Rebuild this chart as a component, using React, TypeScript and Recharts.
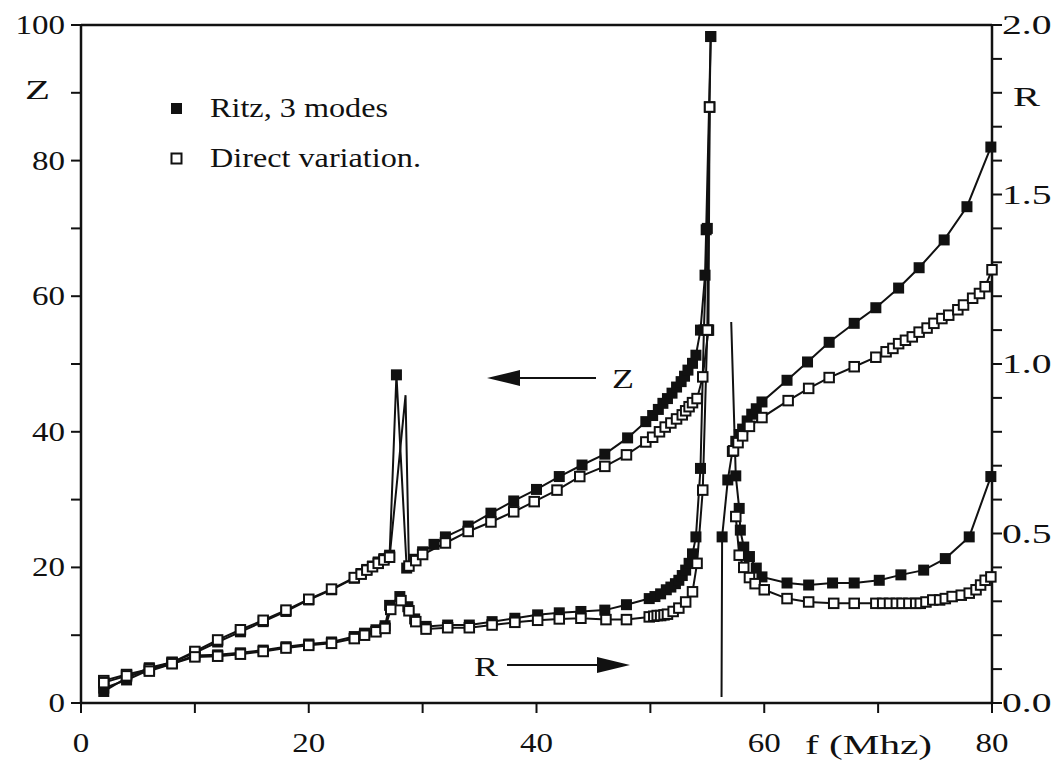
import { Line, LineChart, ReferenceLine, XAxis, YAxis } from "recharts";

type Pt = [number, number | null];

// Z (left axis) – Ritz expansion with 3 modes
const zRitz: Pt[] = [
  [2, 1.7], [4, 3.7], [6, 5.2], [8, 6.0], [10, 7.4], [12, 9.0], [14, 10.5], [16, 12.0], [18, 13.5], [20, 15.2],
  [22, 16.7], [24, 18.4], [24.6, 19.1], [25.1, 19.7], [25.6, 20.2], [26.1, 20.8], [26.6, 21.3], [27.1, 21.8],
  [27.7, 48.4], [28.6, 19.9], [29.2, 21.2], [30, 22.3], [31, 23.4], [32, 24.5], [34, 26.1], [36, 28.0], [38, 29.8],
  [40, 31.5], [42, 33.4], [44, 35.1], [46, 36.7], [48, 39.1], [49.6, 41.5], [50.2, 42.4], [50.7, 43.3], [51.1, 44.2],
  [51.5, 44.9], [51.9, 45.7], [52.3, 46.6], [52.7, 47.4], [53, 48.2], [53.3, 49.1], [53.7, 50.1], [54, 51.3],
  [54.4, 55.0], [54.8, 63.1], [54.9, 69.8], [55.3, 98.3], [55.6, null], [56.25, 0.9], [56.3, 24.5], [56.8, 32.9],
  [57.2, 37.1], [57.5, 38.6], [57.8, 39.6], [58.1, 40.4], [58.5, 41.6], [58.9, 42.6], [59.3, 43.4], [59.8, 44.4],
  [62, 47.6], [63.8, 50.3], [65.7, 53.2], [67.9, 56.0], [69.8, 58.3], [71.8, 61.2], [73.6, 64.2], [75.8, 68.3],
  [77.8, 73.2], [79.9, 82.0],
];
const zRitzBare = [56.25];

// Z (left axis) – direct variational result
const zDirect: Pt[] = [
  [2, 3.3], [4, 4.2], [6, 5.0], [8, 6.0], [10, 7.6], [12, 9.3], [14, 10.8], [16, 12.2], [18, 13.7], [20, 15.3],
  [22, 16.8], [24, 18.5], [24.6, 19.0], [25.1, 19.6], [25.6, 20.1], [26.1, 20.6], [26.6, 21.1], [27.1, 21.5],
  [28.5, 45.4], [28.8, 20.2], [29.4, 21.0], [30, 21.9], [32, 23.6], [34, 25.3], [36, 26.7], [38, 28.2], [39.8, 29.7],
  [41.8, 31.4], [43.8, 33.4], [46, 34.9], [47.9, 36.6], [49.6, 38.5], [50.2, 39.2], [50.8, 40.0], [51.3, 40.7],
  [51.8, 41.3], [52.3, 41.9], [52.8, 42.5], [53.1, 43.1], [53.4, 43.7], [53.7, 44.3], [54.1, 44.9], [54.6, 48.1],
  [55.1, 55.0], [55.2, 87.9], [55.5, null], [57.3, 37.2], [57.7, 38.4], [58.1, 39.4], [58.7, 40.8], [59.8, 42.1],
  [62.1, 44.6], [63.9, 46.4], [65.7, 48.0], [67.9, 49.6], [69.8, 51.0], [70.7, 51.8], [71.3, 52.3], [71.8, 53.0],
  [72.4, 53.5], [73, 54.0], [73.6, 54.7], [74.3, 55.3], [74.9, 56.0], [75.6, 56.7], [76.2, 57.2], [77, 58.0],
  [77.5, 58.7], [78.3, 59.7], [78.9, 60.4], [79.4, 61.4], [80, 63.9],
];
const zDirectBare = [28.5];

// R (right axis) – Ritz expansion with 3 modes
const rRitz: Pt[] = [
  [2, 0.044], [4, 0.068], [6, 0.098], [8, 0.116], [10, 0.14], [12, 0.142], [14, 0.148], [16, 0.156], [18, 0.166],
  [20, 0.174], [22, 0.18], [24, 0.196], [24.9, 0.206], [25.9, 0.216], [26.7, 0.228], [27.1, 0.288], [28, 0.314],
  [28.7, 0.284], [29.3, 0.248], [30.3, 0.226], [32.2, 0.23], [34.1, 0.23], [36.1, 0.24], [38.1, 0.25], [40.1, 0.26],
  [42, 0.266], [43.9, 0.27], [46, 0.274], [47.9, 0.29], [49.9, 0.308], [50.4, 0.314], [50.9, 0.322], [51.4, 0.334],
  [51.8, 0.342], [52.2, 0.352], [52.5, 0.362], [52.8, 0.376], [53.1, 0.392], [53.4, 0.412], [53.7, 0.44], [54, 0.49],
  [54.4, 0.692], [54.7, 1.1], [55, 1.4], [55.3, 1.966], [55.6, null], [57.1, 1.124], [57.5, 0.67], [57.8, 0.574],
  [57.9, 0.51], [58.2, 0.46], [58.7, 0.432], [59.3, 0.398], [59.8, 0.372], [62, 0.354], [63.9, 0.348], [66, 0.354],
  [67.9, 0.354], [70.1, 0.362], [72, 0.378], [74, 0.392], [75.9, 0.426], [78, 0.49], [79.9, 0.668],
];
const rRitzBare = [57.1];

// R (right axis) – direct variational result
const rDirect: Pt[] = [
  [2, 0.06], [4, 0.08], [6, 0.094], [8, 0.116], [10, 0.136], [12, 0.138], [14, 0.144], [16, 0.152], [18, 0.162],
  [20, 0.17], [22, 0.176], [24, 0.19], [24.9, 0.2], [25.9, 0.21], [26.7, 0.22], [27.2, 0.276], [28.1, 0.302],
  [28.8, 0.272], [29.4, 0.24], [30.3, 0.218], [32.2, 0.222], [34.1, 0.222], [36.1, 0.23], [38.1, 0.238], [40.1, 0.244],
  [42, 0.248], [43.9, 0.25], [46.1, 0.246], [47.9, 0.246], [49.9, 0.254], [50.3, 0.256], [50.6, 0.258], [50.9, 0.258],
  [51.2, 0.26], [51.5, 0.262], [52, 0.27], [52.5, 0.28], [53.1, 0.298], [53.7, 0.328], [54.1, 0.412], [54.6, 0.628],
  [55, 1.1], [55.2, 1.758], [55.5, null], [57.5, 0.55], [57.8, 0.436], [58.2, 0.4], [58.7, 0.37], [59.2, 0.352],
  [60, 0.334], [62, 0.308], [63.9, 0.298], [66.1, 0.294], [67.9, 0.294], [69.8, 0.294], [70.4, 0.294], [71, 0.294],
  [71.6, 0.294], [72.1, 0.294], [72.7, 0.294], [73.3, 0.294], [73.7, 0.294], [74.2, 0.298], [74.8, 0.304],
  [75.4, 0.304], [75.9, 0.308], [76.5, 0.314], [77.3, 0.318], [78, 0.324], [78.6, 0.334], [79, 0.348], [79.4, 0.362],
  [79.9, 0.372],
];

const fTicks = [0, 10, 20, 30, 40, 50, 60, 70, 80];
const zTicks = [0, 10, 20, 30, 40, 50, 60, 70, 80, 90, 100];
const rTicks = [0, 0.1, 0.2, 0.3, 0.4, 0.5, 0.6, 0.7, 0.8, 0.9, 1, 1.1, 1.2, 1.3, 1.4, 1.5, 1.6, 1.7, 1.8, 1.9, 2];

const INK = "#111";
const SERIF = "Liberation Serif, Times New Roman, serif";
const CHAR_W = 16.5;

const pts = (rows: Pt[]) => rows.map(([f, v]) => ({ f, v }));

// square markers; points listed in `bare` only carry the line
const squareDot = (filled: boolean, bare: number[] = []) => (props: any) => {
  const { cx, cy, payload, index } = props;
  if (cx == null || cy == null || payload?.v == null || bare.includes(payload.f)) return <g key={`d${index}`} />;
  return filled ? (
    <rect key={`d${index}`} x={cx - 5.5} y={cy - 5.5} width={11} height={11} fill={INK} />
  ) : (
    <rect key={`d${index}`} x={cx - 4.75} y={cy - 4.75} width={9.5} height={9.5} fill="#fff" stroke={INK} strokeWidth={2} />
  );
};

const label = (text: string, x: number, y: number, anchor: "start" | "middle" | "end") => (
  <text x={x} y={y} textAnchor={anchor} fontFamily={SERIF} fontSize={28} fill={INK}
    textLength={text.length * CHAR_W} lengthAdjust="spacingAndGlyphs">
    {text}
  </text>
);

const FTick = ({ x, y, payload }: any) =>
  payload.value % 20 === 0 ? label(String(payload.value), x, y + 37, "middle") : <g />;
const ZTick = ({ x, y, payload }: any) =>
  payload.value % 20 === 0 ? label(String(payload.value), x - 4, y + 9, "end") : <g />;
const RTick = ({ x, y, payload }: any) => {
  const v = payload.value;
  return Math.abs(v * 2 - Math.round(v * 2)) < 1e-6 ? label(v.toFixed(1), x - 2, y + 9, "start") : <g />;
};

const axisLine = { stroke: INK, strokeWidth: 2.5 };
const tickLine = { stroke: INK, strokeWidth: 2 };

export default function App() {
  return (
    <div style={{ position: "relative", width: 1059, height: 775, margin: -8, background: "#fff" }}>
      <LineChart width={1059} height={775} margin={{ top: 25, right: 0, bottom: 12, left: 0 }}>
        <XAxis dataKey="f" type="number" domain={[0, 80]} ticks={fTicks} interval={0} height={60}
          tickSize={10} axisLine={axisLine} tickLine={tickLine} tick={FTick} />
        <YAxis yAxisId="z" domain={[0, 100]} ticks={zTicks} interval={0} width={81}
          tickSize={10} axisLine={axisLine} tickLine={tickLine} tick={ZTick} />
        <YAxis yAxisId="r" orientation="right" domain={[0, 2]} ticks={rTicks} interval={0} width={67}
          tickSize={10} axisLine={axisLine} tickLine={tickLine} tick={RTick} />
        <ReferenceLine yAxisId="z" y={100} stroke={INK} strokeWidth={2.5} />

        <Line data={pts(zRitz)} dataKey="v" yAxisId="z" stroke={INK} strokeWidth={2}
          dot={squareDot(true, zRitzBare)} activeDot={false} isAnimationActive={false} />
        <Line data={pts(rRitz)} dataKey="v" yAxisId="r" stroke={INK} strokeWidth={2}
          dot={squareDot(true, rRitzBare)} activeDot={false} isAnimationActive={false} />
        <Line data={pts(zDirect)} dataKey="v" yAxisId="z" stroke={INK} strokeWidth={2}
          dot={squareDot(false, zDirectBare)} activeDot={false} isAnimationActive={false} />
        <Line data={pts(rDirect)} dataKey="v" yAxisId="r" stroke={INK} strokeWidth={2}
          dot={squareDot(false)} activeDot={false} isAnimationActive={false} />
      </LineChart>

      <svg width={1059} height={775} style={{ position: "absolute", left: 0, top: 0, pointerEvents: "none" }}>
        <g fontFamily={SERIF} fontSize={28} fill={INK}>
          <text x={25} y={99} textLength={25} lengthAdjust="spacingAndGlyphs">Z</text>
          <text x={1013} y={106} textLength={27} lengthAdjust="spacingAndGlyphs">R</text>
          <text x={805} y={754} textLength={127} lengthAdjust="spacingAndGlyphs">f (Mhz)</text>

          <rect x={171} y={103} width={11} height={11} fill={INK} />
          <text x={210} y={117} textLength={178} lengthAdjust="spacingAndGlyphs">Ritz, 3 modes</text>
          <rect x={171.5} y={153.5} width={10} height={10} fill="#fff" stroke={INK} strokeWidth={2} />
          <text x={210} y={167} textLength={211} lengthAdjust="spacingAndGlyphs">Direct variation.</text>

          <text x={612} y={388} textLength={22} lengthAdjust="spacingAndGlyphs">Z</text>
          <line x1={515} y1={378} x2={596} y2={378} stroke={INK} strokeWidth={2} />
          <polygon points="487,378 520,370 520,386" fill={INK} />

          <text x={474} y={676} textLength={24} lengthAdjust="spacingAndGlyphs">R</text>
          <line x1={507} y1={665} x2={600} y2={665} stroke={INK} strokeWidth={2} />
          <polygon points="630,665 597,657 597,673" fill={INK} />
        </g>
      </svg>
    </div>
  );
}
